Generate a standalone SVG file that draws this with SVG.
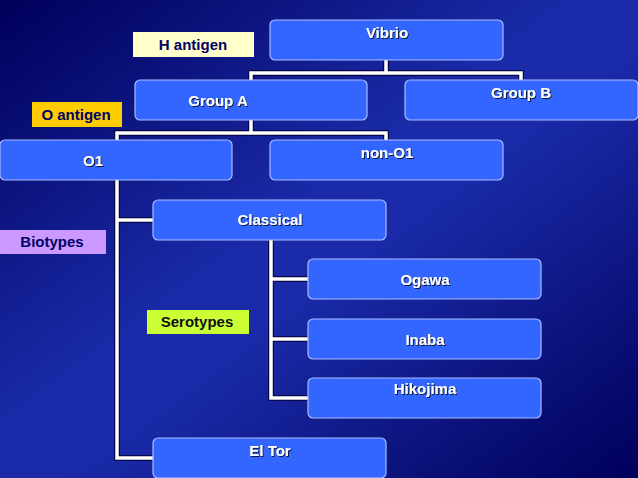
<svg xmlns="http://www.w3.org/2000/svg" width="638" height="478" viewBox="0 0 638 478">
<defs>
<linearGradient id="bg" x1="0" y1="0" x2="1" y2="1">
<stop offset="0" stop-color="#00005a"/><stop offset="0.45" stop-color="#1a2aa8"/><stop offset="0.55" stop-color="#1a2aa8"/><stop offset="1" stop-color="#00005a"/>
</linearGradient>
<filter id="sh"><feDropShadow dx="1" dy="1" stdDeviation="0.3" flood-color="#000" flood-opacity="0.8"/></filter>
</defs>
<style>
.n{fill:#3366ff;stroke:#aabbff;stroke-width:1.2}
.t{font-family:"Liberation Sans",Arial,sans-serif;font-weight:bold;font-size:15px;fill:#fff;text-anchor:middle;filter:url(#sh)}
.l{font-family:"Liberation Sans",Arial,sans-serif;font-weight:bold;font-size:15px;fill:#000066;text-anchor:middle}
.c{fill:none;stroke:#fff;stroke-width:3.5}
.co{fill:none;stroke:#000033;stroke-width:5.5}
</style>
<rect width="638" height="478" fill="url(#bg)"/>
<g id="connectors">
<path class="co" d="M386 60V73M251 80V73H521V80M251 120V133M117 140V133H386V140M117 180V458H153M117 220H153M271 240V398H308M271 279H308M271 339H308"/>
<path class="c" d="M386 60V73M251 80V73H521V80M251 120V133M117 140V133H386V140M117 180V458H153M117 220H153M271 240V398H308M271 279H308M271 339H308"/>
</g>
<g id="vibrio"><rect class="n" x="270" y="20" width="233" height="40" rx="5"/><text class="t" x="387" y="38">Vibrio</text></g>
<g id="h-antigen"><rect x="133" y="32" width="121" height="25" fill="#ffffcc"/><text class="l" x="193" y="50">H antigen</text></g>
<g id="group-a"><rect class="n" x="135" y="80" width="232" height="40" rx="5"/><text class="t" x="218" y="106">Group A</text></g>
<g id="group-b"><rect class="n" x="405" y="80" width="233" height="40" rx="5"/><text class="t" x="521" y="98">Group B</text></g>
<g id="o-antigen"><rect x="32" y="102" width="90" height="25" fill="#ffcc00"/><text class="l" x="76" y="120">O antigen</text></g>
<g id="o1"><rect class="n" x="0" y="140" width="232" height="40" rx="5"/><text class="t" x="93" y="166">O1</text></g>
<g id="non-o1"><rect class="n" x="270" y="140" width="233" height="40" rx="5"/><text class="t" x="387" y="158">non-O1</text></g>
<g id="classical"><rect class="n" x="153" y="200" width="233" height="40" rx="5"/><text class="t" x="270" y="225">Classical</text></g>
<g id="biotypes"><rect x="0" y="230" width="106" height="24" fill="#cc99ff"/><text class="l" x="52" y="247" fill="#1a0a66">Biotypes</text></g>
<g id="ogawa"><rect class="n" x="308" y="259" width="233" height="40" rx="5"/><text class="t" x="425" y="285">Ogawa</text></g>
<g id="serotypes"><rect x="147" y="310" width="102" height="24" fill="#ccff33"/><text class="l" x="197" y="327" style="fill:#111">Serotypes</text></g>
<g id="inaba"><rect class="n" x="308" y="319" width="233" height="40" rx="5"/><text class="t" x="425" y="345">Inaba</text></g>
<g id="hikojima"><rect class="n" x="308" y="378" width="233" height="40" rx="5"/><text class="t" x="425" y="394">Hikojima</text></g>
<g id="el-tor"><rect class="n" x="153" y="438" width="233" height="40" rx="5"/><text class="t" x="270" y="456">El Tor</text></g>
</svg>
